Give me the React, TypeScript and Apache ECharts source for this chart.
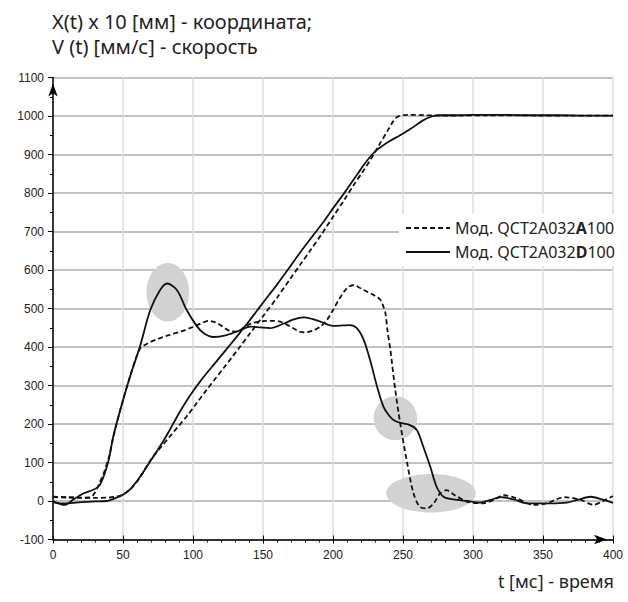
import React, { useEffect, useRef } from "react";
import * as echarts from "echarts";

const xTicks = { min: 0, max: 400, interval: 50 };
const yTicks = { min: -100, max: 1100, interval: 100 };

const titleLines = ["X(t) x 10 [мм] - координата;", "V (t) [мм/с] - скорость"];
const xName = "t [мс] - время";
const nameA = "Мод. QCT2A032A100";
const nameD = "Мод. QCT2A032D100";

const posA: number[][] = [
  [0, 11], [10, 10], [20, 9], [30, 8], [40, 9], [46, 12], [50, 17], [55, 30], [60, 50], [65, 78],
  [70, 108], [76, 135], [84, 170], [90, 196], [96, 222], [103, 256], [110, 290], [116, 318],
  [122, 346], [128, 374], [133, 398], [140, 432], [150, 480], [160, 528], [170, 580], [177, 616],
  [184, 652], [192, 694], [200, 738], [208, 782], [215, 822], [221, 854], [227, 888], [233, 925],
  [239, 962], [243, 986], [246, 998], [250, 1002], [255, 1003], [265, 1002], [275, 1001],
  [290, 1001], [310, 1002], [330, 1002], [350, 1001], [370, 1001], [390, 1001], [400, 1001],
];

const posD: number[][] = [
  [0, -3], [5, -6], [10, -6], [20, -3], [30, -1], [38, 0], [45, 8], [50, 16], [55, 30], [60, 52],
  [65, 78], [70, 106], [75, 134], [80, 163], [85, 195], [90, 228], [95, 258], [100, 285],
  [105, 310], [110, 333], [115, 355], [120, 377], [125, 399], [130, 421], [135, 444], [140, 467],
  [145, 491], [150, 515], [160, 562], [170, 612], [177, 648], [185, 686], [193, 724], [200, 760],
  [210, 810], [218, 852], [223, 878], [228, 900], [232, 914], [236, 924], [240, 934], [248, 950],
  [256, 968], [264, 988], [270, 998], [275, 1002], [285, 1002], [300, 1003], [320, 1003],
  [340, 1002], [360, 1002], [380, 1001], [400, 1001],
];

const velA: number[][] = [
  [0, 10], [10, 9], [20, 8], [27, 10], [30, 22], [33, 45], [37, 80], [40, 115], [43, 165],
  [48, 236], [55, 323], [62, 395], [67, 408], [74, 420], [82, 430], [91, 440], [100, 452],
  [105, 460], [111, 468], [116, 464], [120, 456], [126, 442], [131, 440], [137, 452], [142, 462],
  [150, 467], [156, 468], [162, 466], [167, 458], [172, 448], [176, 440], [180, 438], [186, 443],
  [191, 453], [196, 472], [200, 496], [204, 522], [208, 544], [211, 556], [215, 561], [218, 556],
  [222, 548], [229, 535], [234, 522], [236, 505], [237.5, 487], [239, 440], [241, 392],
  [244.5, 288], [248, 202], [253, 98], [257.5, 20], [262, -15], [267, -19], [272, -6], [276.5, 20],
  [281, 28], [287, 15], [296, -2], [307, -6], [315, 3], [322, 15], [331, 7], [343, -10],
  [353, -6], [358, 2], [365, 10], [377, 3], [386, -10], [393, 0], [400, 13],
];

const velD: number[][] = [
  [0, 0], [3, -5], [7, -10], [10, -8], [15, 5], [22, 20], [28, 28], [32, 36], [34, 45],
  [37, 72], [40, 110], [43, 167], [48, 236], [55, 323], [62, 400], [69.5, 496], [76.5, 548],
  [81.5, 565], [88.5, 548], [95.5, 496], [103, 453], [108, 435], [114.5, 426], [124, 431],
  [134, 444], [141, 453], [148, 451], [155, 449], [165, 461], [172, 472], [179, 477], [185, 473],
  [191, 466], [200, 455], [207, 456], [212, 457], [217, 449], [222, 418], [226.5, 366],
  [231.5, 297], [236, 245], [240, 222], [243.5, 210], [249, 202], [255, 197], [260, 184],
  [264.5, 141], [269.5, 89], [274, 37], [279, 11], [286, 4], [296, 0], [305, -4], [312, 2],
  [319.5, 10], [329, 4], [338.5, -6], [355, -6], [367, -4], [375, 3], [384, 11], [392, 4],
  [400, -5],
];

// highlight ellipses: [centre t, centre value, radius t, radius value]
const highlights: number[][] = [
  [82, 542, 15.2, 76],
  [244.5, 215, 15.5, 57],
  [270, 20, 32, 50],
];

const SANS = "'Noto Sans', 'Open Sans', sans-serif";
const ARIAL = "'Liberation Sans', Arial, sans-serif";

export default function App() {
  const ref = useRef<HTMLDivElement>(null);

  useEffect(() => {
    if (!ref.current) return;
    const chart = echarts.init(ref.current, undefined, { renderer: "svg" });
    const lineBase = {
      type: "line" as const,
      symbol: "none",
      showSymbol: false,
      smooth: 0.3,
      z: 3,
    };
    const solidStyle = { color: "#111", width: 1.8, type: "solid" as const };
    const dashStyle = { color: "#111", width: 1.8, type: [5, 3] as any };
    const plain = (v: number) => String(v);
    chart.setOption({
      animation: false,
      backgroundColor: "#fff",
      title: {
        text: titleLines.join("\n"),
        left: 47,
        top: 4,
        textStyle: {
          fontFamily: SANS,
          fontSize: 20,
          fontWeight: "normal",
          color: "#222",
          lineHeight: 25,
        },
      },
      grid: { left: 53, right: 15, top: 77.5, bottom: 62.5 },
      legend: {
        orient: "vertical",
        left: 399,
        top: 214,
        data: [nameA, nameD],
        itemWidth: 44,
        itemHeight: 14,
        itemGap: 8,
        padding: [6, 30, 6, 6],
        backgroundColor: "#fff",
        itemStyle: { opacity: 0 },
        textStyle: {
          fontFamily: SANS,
          fontSize: 16,
          color: "#222",
          rich: {
            n: { fontFamily: SANS, fontSize: 16, color: "#222" },
            b: { fontFamily: SANS, fontSize: 16, color: "#222", fontWeight: "bold" },
          },
        },
        formatter: (name: string) => {
          const letter = name === nameA ? "A" : "D";
          return `{n|Мод. QCT2A032}{b|${letter}}{n|100}`;
        },
        z: 10,
      },
      graphic: [
        {
          type: "text",
          right: 14,
          top: 572,
          style: {
            text: xName,
            fontFamily: SANS,
            fontSize: 18,
            fill: "#222",
          },
        },
      ],
      xAxis: [
        {
          type: "value",
          min: xTicks.min,
          max: xTicks.max,
          interval: xTicks.interval,
          axisLine: {
            show: true,
            onZero: false,
            lineStyle: { color: "#000", width: 1.5 },
            symbol: ["none", "arrow"],
            symbolSize: [7, 13],
            symbolOffset: [0, -6],
          },
          axisTick: { show: true, length: 4, lineStyle: { color: "#000", width: 1 } },
          minorTick: { show: true, splitNumber: 5, length: 3, lineStyle: { color: "#000", width: 1 } },
          axisLabel: { fontFamily: ARIAL, fontSize: 12, color: "#222", margin: 9, formatter: plain },
          splitLine: { show: true, lineStyle: { color: "#dcdcdc", width: 1.5 } },
        },
        {
          type: "value",
          min: xTicks.min,
          max: xTicks.max,
          interval: xTicks.interval,
          position: "bottom",
          axisLine: { show: false, onZero: false },
          axisTick: { show: true, inside: true, length: 4, lineStyle: { color: "#000", width: 1 } },
          axisLabel: { show: false },
          splitLine: { show: false },
        },
      ],
      yAxis: {
        type: "value",
        min: yTicks.min,
        max: yTicks.max,
        interval: yTicks.interval,
        axisLine: {
          show: true,
          onZero: false,
          lineStyle: { color: "#000", width: 1.5 },
          symbol: ["none", "arrow"],
          symbolSize: [7, 13],
          symbolOffset: [0, -6],
        },
        axisTick: { show: true, length: 5, lineStyle: { color: "#000", width: 1 } },
        minorTick: { show: true, splitNumber: 2, length: 3, lineStyle: { color: "#000", width: 1 } },
        axisLabel: { fontFamily: ARIAL, fontSize: 12, color: "#222", margin: 9, formatter: plain },
        splitLine: { show: true, lineStyle: { color: "#aeaeae", width: 1.5 } },
      },
      series: [
        {
          type: "custom",
          name: "highlight",
          z: 1,
          silent: true,
          encode: { x: 0, y: 1 },
          data: highlights,
          renderItem: (params: any, api: any) => {
            const c = api.coord([api.value(0), api.value(1)]);
            const s = api.size([api.value(2), api.value(3)]);
            return {
              type: "ellipse",
              shape: { cx: c[0], cy: c[1], rx: s[0], ry: s[1] },
              style: { fill: "#d2d2d2" },
            };
          },
        },
        { ...lineBase, name: nameA, data: posA, lineStyle: dashStyle, itemStyle: { color: "#111" } },
        { ...lineBase, name: nameD, data: posD, lineStyle: solidStyle, itemStyle: { color: "#111" } },
        { ...lineBase, name: nameA, data: velA, lineStyle: dashStyle, itemStyle: { color: "#111" } },
        { ...lineBase, name: nameD, data: velD, lineStyle: solidStyle, itemStyle: { color: "#111" } },
      ],
    });
    return () => chart.dispose();
  }, []);

  return <div ref={ref} style={{ width: 628, height: 602, position: "absolute", left: 0, top: 0 }} />;
}
